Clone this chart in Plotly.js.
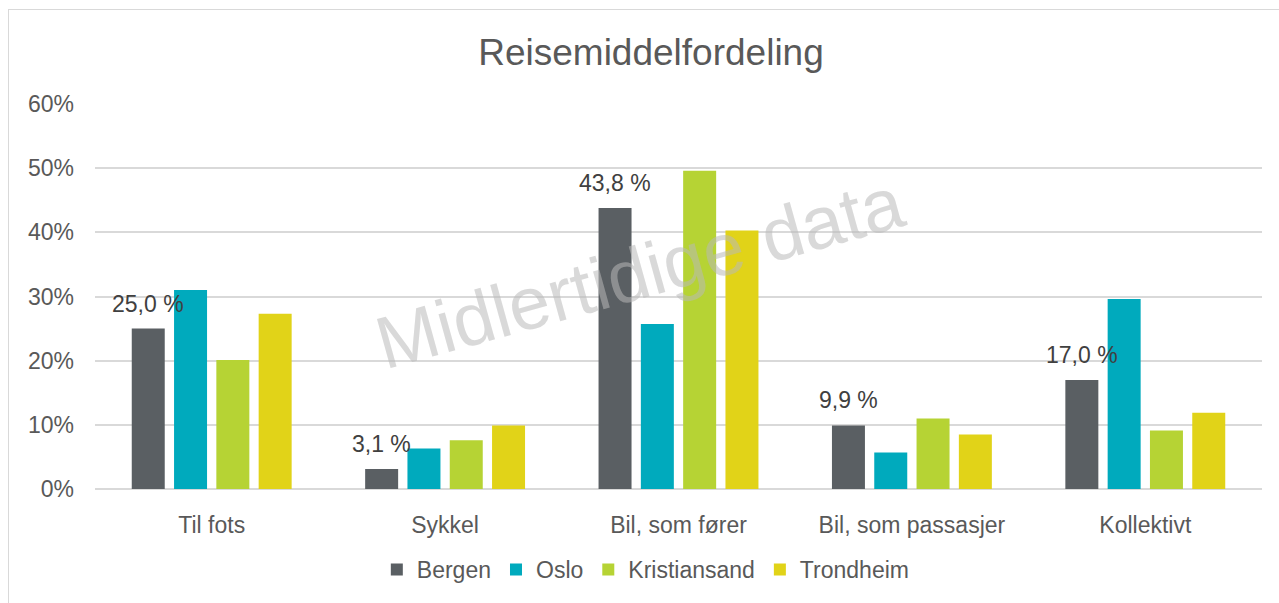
<!DOCTYPE html>
<html>
<head>
<meta charset="utf-8">
<script src="https://cdn.plot.ly/plotly-3.0.1.min.js"></script>
<style>
  html, body { margin: 0; padding: 0; background: #fff; }
  #wrap { position: relative; width: 1279px; height: 603px; overflow: hidden; }
  #chart { position: absolute; left: 0; top: 0; width: 1279px; height: 603px; }
  #frame { position: absolute; left: 8px; top: 9px; width: 1290px; height: 620px;
           border: 1px solid #d9d9d9; box-sizing: border-box; pointer-events: none; }
</style>
</head>
<body>
<div id="wrap">
  <div id="chart"></div>
  <div id="frame"></div>
</div>
<script>
const categories = ["Til fots", "Sykkel", "Bil, som fører", "Bil, som passasjer", "Kollektivt"];
const seriesNames = ["Bergen", "Oslo", "Kristiansand", "Trondheim"];
const bergen = [25.0, 3.1, 43.8, 9.9, 17.0];
const oslo = [31.0, 6.3, 25.7, 5.7, 29.6];
const kristiansand = [20.1, 7.6, 49.6, 11.0, 9.1];
const trondheim = [27.3, 9.9, 40.3, 8.5, 11.9];
const yTickVals = [0, 10, 20, 30, 40, 50, 60];
const yTickText = ["0%", "10%", "20%", "30%", "40%", "50%", "60%"];
const colors = ["#5a5f63", "#00aabd", "#b6d334", "#e1d318"];
const seriesValues = [bergen, oslo, kristiansand, trondheim];

const FONT = "Liberation Sans, Arial, sans-serif";
const bargap = 0.275, bargroupgap = 0.22;
const margin = {l: 95, r: 17, t: 104, b: 112};
const plotW = 1279 - margin.l - margin.r;
const catW = plotW / categories.length;
const slotW = catW * (1 - bargap) / seriesNames.length;

const traces = seriesNames.map((name, i) => ({
  type: "bar",
  name: name,
  x: categories,
  y: seriesValues[i],
  marker: {color: colors[i]},
  hoverinfo: "none"
}));

const labelAnnotations = categories.map((c, j) => ({
  x: c, y: bergen[j], xref: "x", yref: "y",
  text: bergen[j].toFixed(1).replace(".", ",") + " %",
  showarrow: false,
  xshift: -1.5 * slotW,
  yshift: 25,
  xanchor: "center", yanchor: "middle",
  font: {family: FONT, size: 23, color: "#404040"}
}));

const watermark = {
  xref: "paper", yref: "paper", x: 0.467, y: 0.563,
  text: "Midlertidige data", showarrow: false, textangle: -15.5,
  xanchor: "center", yanchor: "middle",
  font: {family: FONT, size: 74, color: "rgba(185,185,185,0.54)"}
};

const layout = {
  width: 1279, height: 603,
  margin: margin,
  paper_bgcolor: "rgba(0,0,0,0)", plot_bgcolor: "#fff",
  barmode: "group", bargap: bargap, bargroupgap: bargroupgap,
  title: {
    text: "Reisemiddelfordeling",
    font: {family: FONT, size: 37, color: "#595959"},
    xref: "container", yref: "container",
    x: 0.509, y: 0.914, xanchor: "center", yanchor: "middle"
  },
  xaxis: {
    type: "category",
    tickfont: {family: FONT, size: 23, color: "#595959"},
    showgrid: false, zeroline: false, showline: false, ticks: "",
    ticklabelstandoff: 20
  },
  yaxis: {
    range: [0, 60],
    tickvals: yTickVals, ticktext: yTickText,
    tickfont: {family: FONT, size: 23, color: "#595959"},
    showgrid: true, gridcolor: "#d9d9d9", gridwidth: 2,
    zeroline: true, zerolinecolor: "#d9d9d9", zerolinewidth: 2,
    showline: false, ticks: "", ticklabelstandoff: 20
  },
  showlegend: true,
  legend: {
    orientation: "h", x: 0.472, y: -0.209, xanchor: "center", yanchor: "middle",
    font: {family: FONT, size: 23, color: "#595959"},
    itemwidth: 30, bgcolor: "rgba(0,0,0,0)"
  },
  annotations: labelAnnotations.concat([watermark])
};

Plotly.newPlot("chart", traces, layout, {displayModeBar: false, staticPlot: true});
</script>
</body>
</html>
